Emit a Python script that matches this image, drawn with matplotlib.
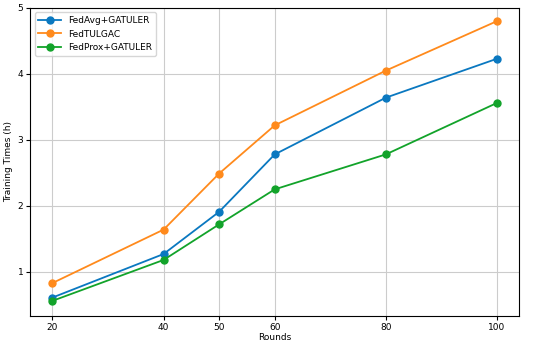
import matplotlib.pyplot as plt

plt.rcParams['font.family'] = ['DejaVu Sans']

rounds = [20, 40, 50, 60, 80, 100]
fedavg = [0.61, 1.27, 1.91, 2.78, 3.64, 4.23]
fedtulgac = [0.83, 1.64, 2.49, 3.22, 4.05, 4.80]
fedprox = [0.56, 1.18, 1.72, 2.25, 2.78, 3.56]

fig = plt.figure(figsize=(5.5, 3.45), dpi=100)
ax = fig.add_axes([0.055, 0.084, 0.889, 0.893])

ax.plot(rounds, fedavg, marker="o", color="#0a78c0", label="FedAvg+GATULER", markersize=5, lw=1.3)
ax.plot(rounds, fedtulgac, marker="o", color="#ff8a1c", label="FedTULGAC", markersize=5, lw=1.3)
ax.plot(rounds, fedprox, marker="o", color="#12a32a", label="FedProx+GATULER", markersize=5, lw=1.3)

ax.set_xticks(rounds)
ax.set_yticks([1, 2, 3, 4, 5])
ax.set_xlim(16, 104)
ax.set_ylim(0.33, 5.0)
ax.tick_params(labelsize=6.5, length=3, pad=2)
ax.set_xlabel("Rounds", fontsize=6.5, labelpad=1)
ax.set_ylabel("Training Times (h)", fontsize=6.5)
ax.yaxis.set_label_coords(-0.036, 0.5)
ax.grid(True, color="#cccccc", lw=0.8)
ax.legend(loc="upper left", fontsize=6.5, handlelength=2.5)

fig.savefig("out.png")
